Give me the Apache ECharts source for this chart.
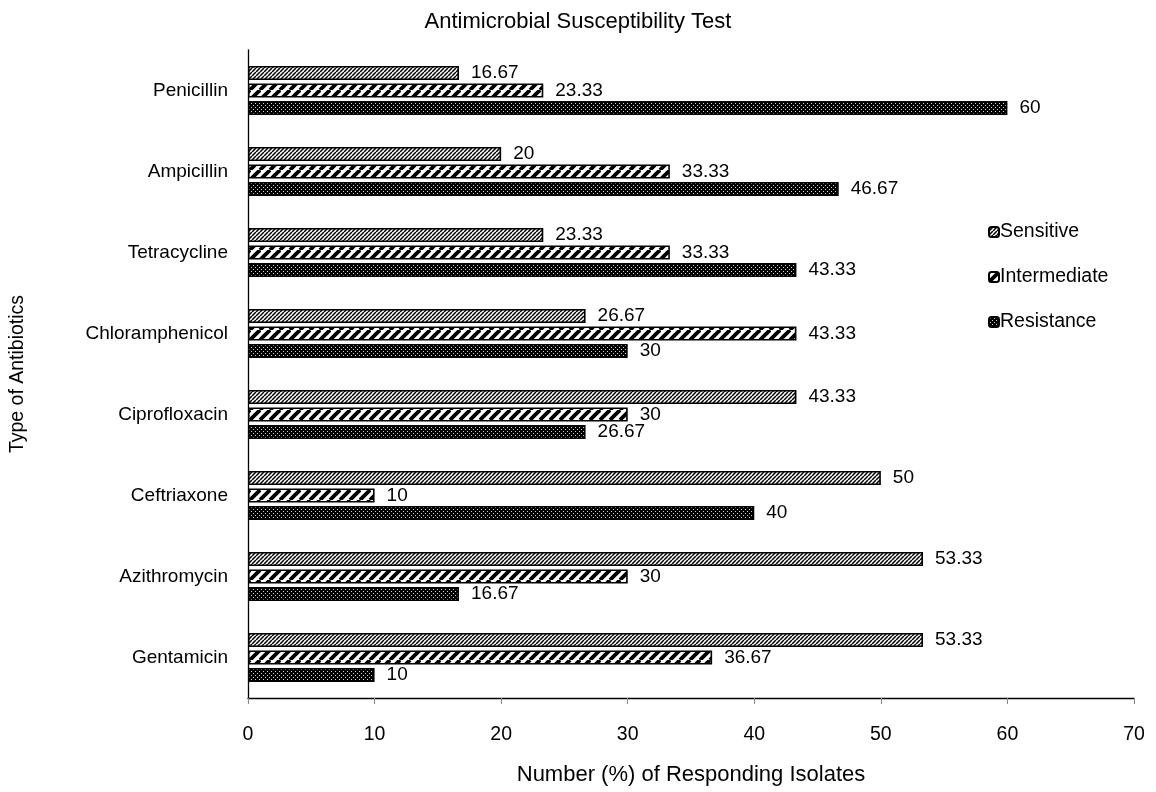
<!DOCTYPE html>
<html><head><meta charset="utf-8">
<script src="https://cdn.jsdelivr.net/npm/echarts@6/dist/echarts.min.js"></script>
<style>html,body{margin:0;padding:0;background:#fff}#c{width:1156px;height:792px}</style>
</head><body><div id="c"></div>
<script>
const categories = ['Penicillin','Ampicillin','Tetracycline','Chloramphenicol','Ciprofloxacin','Ceftriaxone','Azithromycin','Gentamicin'];
const sensitive = [16.67, 20, 23.33, 26.67, 43.33, 50, 53.33, 53.33];
const intermediate = [23.33, 33.33, 33.33, 43.33, 30, 10, 30, 36.67];
const resistance = [60, 46.67, 43.33, 30, 26.67, 40, 16.67, 10];
const xTicks = [0,10,20,30,40,50,60,70];

function makePattern(kind){
  const c = document.createElement('canvas');
  const ctx = c.getContext('2d');
  if(kind==='sens'){
    c.width=4;c.height=4;
    ctx.fillStyle='#fff';ctx.fillRect(0,0,4,4);
    ctx.strokeStyle='#000';ctx.lineWidth=1.5;
    for(let k=-1;k<=1;k++){ctx.beginPath();ctx.moveTo(k*4,4);ctx.lineTo(k*4+4,0);ctx.stroke();}
  } else if(kind==='inter'){
    c.width=10;c.height=10;
    ctx.fillStyle='#fff';ctx.fillRect(0,0,10,10);
    ctx.strokeStyle='#000';ctx.lineWidth=3.8;
    for(let k=-1;k<=1;k++){ctx.beginPath();ctx.moveTo(k*10,10);ctx.lineTo(k*10+10,0);ctx.stroke();}
  } else {
    c.width=4;c.height=4;
    ctx.fillStyle='#000';ctx.fillRect(0,0,4,4);
    ctx.fillStyle='#d0d0d0';ctx.fillRect(1,1,1,1);ctx.fillRect(3,3,1,1);
  }
  return {image:c, repeat:'repeat'};
}
const pats = {sens:makePattern('sens'), inter:makePattern('inter'), res:makePattern('res')};

const revCats = categories.slice().reverse();
const rev = a => a.slice().reverse();
const font = 'Liberation Sans, Arial, sans-serif';
const lbl = {show:true, position:'right', distance:12, color:'#000', fontSize:19, fontFamily:font};
function ser(name, data, pat){
  return {name, type:'bar', data:rev(data), barWidth:14, barGap:'25%',
    itemStyle:{color:pat, borderColor:'#000', borderWidth:1.6},
    label:lbl, emphasis:{disabled:true}};
}
const chart = echarts.init(document.getElementById('c'));
chart.setOption({
  animation:false,
  title:{text:'Antimicrobial Susceptibility Test', left:'center', top:6,
    textStyle:{fontSize:22, fontWeight:'normal', color:'#000', fontFamily:font}},
  legend:{orient:'vertical', left:983, top:217, itemWidth:10, itemHeight:10, itemGap:25,
    textStyle:{fontSize:19.5, color:'#000', fontFamily:font, padding:[0,0,0,-4]},
    data:['Sensitive','Intermediate','Resistance']},
  grid:{left:248, right:22, top:50, bottom:94, containLabel:false},
  xAxis:{type:'value', min:0, max:70, interval:10,
    name:'Number (%) of Responding Isolates', nameLocation:'middle', nameGap:66,
    nameTextStyle:{fontSize:22, color:'#000', fontFamily:font},
    axisLine:{show:true, lineStyle:{color:'#000', width:1.3}},
    axisTick:{show:true, length:6, lineStyle:{color:'#888'}},
    axisLabel:{fontSize:19.5, color:'#000', fontFamily:font, margin:27,
      formatter: v => xTicks.includes(v) ? String(v) : ''},
    splitLine:{show:false}},
  yAxis:{type:'category', data:revCats,
    name:'Type of Antibiotics', nameLocation:'middle', nameGap:220, nameRotate:90,
    nameTextStyle:{fontSize:19.5, color:'#000', fontFamily:font},
    axisLine:{show:true, lineStyle:{color:'#000', width:1.3}},
    axisTick:{show:false},
    axisLabel:{fontSize:19, color:'#000', fontFamily:font, margin:20}},
  series:[
    ser('Sensitive', sensitive, pats.sens),
    ser('Intermediate', intermediate, pats.inter),
    ser('Resistance', resistance, pats.res)
  ]
});
</script></body></html>
